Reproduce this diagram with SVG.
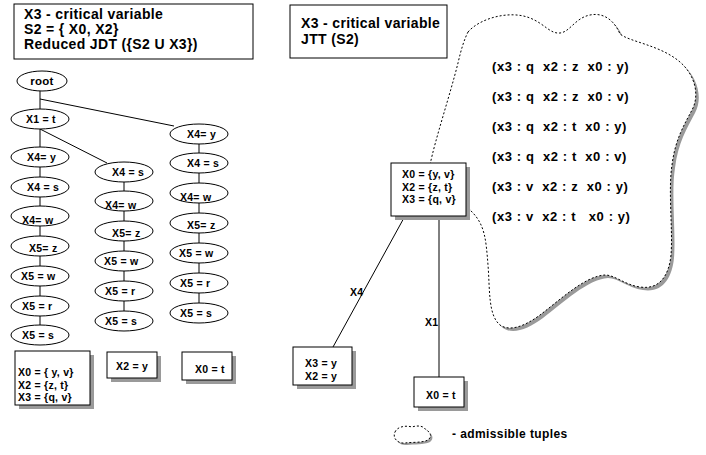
<svg xmlns="http://www.w3.org/2000/svg" width="706" height="455" viewBox="0 0 706 455">
<style>
text { font-family: "Liberation Sans", Arial, sans-serif; font-weight: bold; fill: #000; }
.h { font-size: 14px; letter-spacing: 0.35px; }
.s { font-size: 10.5px; letter-spacing: 0.25px; }
.tu { font-size: 13px; letter-spacing: 0.6px; }
.lg { font-size: 12px; letter-spacing: 0.4px; }
ellipse { fill: #fff; stroke: #000; stroke-width: 1; }
.box { fill: #fff; stroke: #000; stroke-width: 1; }
.sh { fill: #9a9a9a; stroke: none; }
.con line { stroke: #000; stroke-width: 1; }
.cloud { fill: #fff; stroke: #000; stroke-width: 1; stroke-dasharray: 2 2; }
</style>

<!-- cloud of admissible tuples -->
<g id="cloud">
<path class="sh" transform="translate(3,3)" d="M 468,32 C 480,18 510,10 530,18 C 545,24 550,34 560,33 C 570,32 575,18 590,15 C 605,12 615,22 620,34 C 630,42 660,45 680,62 C 695,75 700,95 692,110 C 684,125 675,140 672,165 C 668,190 673,230 671,255 C 669,275 660,290 640,287 C 625,285 615,275 605,275 C 585,276 560,300 540,315 C 525,326 510,332 500,325 C 488,315 490,290 488,265 C 486,240 485,225 472,212 L 430,165 C 435,140 450,95 458,63 C 461,50 464,40 468,32 Z"/>
<path class="cloud" d="M 468,32 C 480,18 510,10 530,18 C 545,24 550,34 560,33 C 570,32 575,18 590,15 C 605,12 615,22 620,34 C 630,42 660,45 680,62 C 695,75 700,95 692,110 C 684,125 675,140 672,165 C 668,190 673,230 671,255 C 669,275 660,290 640,287 C 625,285 615,275 605,275 C 585,276 560,300 540,315 C 525,326 510,332 500,325 C 488,315 490,290 488,265 C 486,240 485,225 472,212 L 430,165 C 435,140 450,95 458,63 C 461,50 464,40 468,32 Z"/>
<text class="tu" x="492" y="71" xml:space="preserve">(x3 : q  x2 : z  x0 : y)</text>
<text class="tu" x="492" y="101" xml:space="preserve">(x3 : q  x2 : z  x0 : v)</text>
<text class="tu" x="492" y="131" xml:space="preserve">(x3 : q  x2 : t  x0 : y)</text>
<text class="tu" x="492" y="161" xml:space="preserve">(x3 : q  x2 : t  x0 : v)</text>
<text class="tu" x="492" y="191" xml:space="preserve">(x3 : v  x2 : z  x0 : y)</text>
<text class="tu" x="492" y="221" xml:space="preserve">(x3 : v  x2 : t   x0 : y)</text>
</g>

<!-- headers -->
<g id="header-left">
<rect class="box" x="14" y="4" width="239" height="55"/>
<text class="h" x="24" y="19">X3 - critical variable</text>
<text class="h" x="24" y="34">S2 = { X0, X2}</text>
<text class="h" x="24" y="49">Reduced JDT ({S2 U X3})</text>
</g>
<g id="header-right">
<rect class="box" x="290" y="5" width="157" height="53"/>
<text class="h" x="301" y="28">X3 - critical variable</text>
<text class="h" x="301" y="44">JTT (S2)</text>
</g>

<!-- connectors -->
<g id="connectors" class="con">
<line x1="40" y1="90" x2="40" y2="109"/>
<line x1="40" y1="99" x2="174" y2="126"/>
<line x1="40" y1="129" x2="107" y2="163"/>
<line x1="40" y1="129" x2="40" y2="147"/>
<line x1="40" y1="167" x2="40" y2="177"/>
<line x1="40" y1="197" x2="40" y2="206"/>
<line x1="40" y1="226" x2="40" y2="236"/>
<line x1="40" y1="256" x2="40" y2="266"/>
<line x1="40" y1="286" x2="40" y2="296"/>
<line x1="40" y1="316" x2="40" y2="325"/>
<line x1="124" y1="182" x2="124" y2="191"/>
<line x1="124" y1="211" x2="124" y2="221"/>
<line x1="124" y1="241" x2="124" y2="251"/>
<line x1="124" y1="271" x2="124" y2="281"/>
<line x1="124" y1="301" x2="124" y2="311"/>
<line x1="199" y1="144" x2="199" y2="153"/>
<line x1="199" y1="173" x2="199" y2="183"/>
<line x1="199" y1="203" x2="199" y2="213"/>
<line x1="199" y1="233" x2="199" y2="243"/>
<line x1="199" y1="263" x2="199" y2="273"/>
<line x1="199" y1="293" x2="199" y2="303"/>
<line x1="405" y1="216" x2="333" y2="347"/>
<line x1="439" y1="216" x2="439" y2="377"/>
<text class="s" x="350" y="296">X4</text>
<text class="s" x="425" y="326">X1</text>
</g>

<!-- left tree nodes -->
<g id="n-root"><ellipse cx="42" cy="81" rx="25" ry="10"/><text class="s" x="42" y="85" text-anchor="middle" style="font-size:11.5px">root</text></g>
<g id="n-x1t"><ellipse cx="40" cy="119" rx="29" ry="10"/><text class="s" x="26" y="123">X1 = t</text></g>
<g id="n-l1"><ellipse cx="40" cy="157" rx="29" ry="10"/><text class="s" x="27" y="161">X4= y</text></g>
<g id="n-l2"><ellipse cx="40" cy="187" rx="29" ry="10"/><text class="s" x="27" y="191">X4 = s</text></g>
<g id="n-l3"><ellipse cx="40" cy="216" rx="29" ry="10"/><text class="s" x="22" y="224">X4= w</text></g>
<g id="n-l4"><ellipse cx="40" cy="246" rx="29" ry="10"/><text class="s" x="29" y="252">X5= z</text></g>
<g id="n-l5"><ellipse cx="40" cy="276" rx="29" ry="10"/><text class="s" x="21" y="280">X5 = w</text></g>
<g id="n-l6"><ellipse cx="40" cy="306" rx="29" ry="10"/><text class="s" x="22" y="310">X5 = r</text></g>
<g id="n-l7"><ellipse cx="40" cy="335" rx="29" ry="10"/><text class="s" x="22" y="339">X5 = s</text></g>

<g id="n-m1"><ellipse cx="124" cy="172" rx="29" ry="10"/><text class="s" x="112" y="176">X4 = s</text></g>
<g id="n-m2"><ellipse cx="124" cy="201" rx="29" ry="10"/><text class="s" x="105" y="209">X4= w</text></g>
<g id="n-m3"><ellipse cx="124" cy="231" rx="29" ry="10"/><text class="s" x="112" y="237">X5= z</text></g>
<g id="n-m4"><ellipse cx="124" cy="261" rx="29" ry="10"/><text class="s" x="104" y="265">X5 = w</text></g>
<g id="n-m5"><ellipse cx="124" cy="291" rx="29" ry="10"/><text class="s" x="105" y="295">X5 = r</text></g>
<g id="n-m6"><ellipse cx="124" cy="321" rx="29" ry="10"/><text class="s" x="105" y="325">X5 = s</text></g>

<g id="n-r1"><ellipse cx="199" cy="134" rx="29" ry="10"/><text class="s" x="187" y="138">X4= y</text></g>
<g id="n-r2"><ellipse cx="199" cy="163" rx="29" ry="10"/><text class="s" x="187" y="167">X4 = s</text></g>
<g id="n-r3"><ellipse cx="199" cy="193" rx="29" ry="10"/><text class="s" x="180" y="201">X4= w</text></g>
<g id="n-r4"><ellipse cx="199" cy="223" rx="29" ry="10"/><text class="s" x="187" y="229">X5= z</text></g>
<g id="n-r5"><ellipse cx="199" cy="253" rx="29" ry="10"/><text class="s" x="179" y="257">X5 = w</text></g>
<g id="n-r6"><ellipse cx="199" cy="283" rx="29" ry="10"/><text class="s" x="180" y="287">X5 = r</text></g>
<g id="n-r7"><ellipse cx="199" cy="313" rx="29" ry="10"/><text class="s" x="180" y="317">X5 = s</text></g>

<!-- left leaf boxes -->
<g id="b-left1">
<rect class="sh" x="19" y="355" width="75" height="54"/>
<rect class="box" x="15" y="351" width="75" height="54"/>
<text class="s" x="18" y="376">X0 = { y, v}</text>
<text class="s" x="18" y="389">X2 = {z, t}</text>
<text class="s" x="18" y="401">X3 = {q, v}</text>
</g>
<g id="b-left2">
<rect class="sh" x="111" y="356" width="50" height="26"/>
<rect class="box" x="107" y="352" width="50" height="26"/>
<text class="s" x="116" y="370">X2 = y</text>
</g>
<g id="b-left3">
<rect class="sh" x="186" y="356" width="50" height="28"/>
<rect class="box" x="182" y="352" width="50" height="28"/>
<text class="s" x="195" y="373">X0 = t</text>
</g>

<!-- right JTT nodes -->
<g id="b-jtt">
<rect class="sh" x="395" y="167" width="75" height="53"/>
<rect class="box" x="391" y="163" width="75" height="53"/>
<text class="s" x="402" y="178">X0 = {y, v}</text>
<text class="s" x="402" y="190.5">X2 = {z, t}</text>
<text class="s" x="402" y="203">X3 = {q, v}</text>
</g>
<g id="b-x3y">
<rect class="sh" x="297" y="351" width="59" height="38"/>
<rect class="box" x="293" y="347" width="59" height="38"/>
<text class="s" x="305" y="367">X3 = y</text>
<text class="s" x="305" y="380">X2 = y</text>
</g>
<g id="b-x0t">
<rect class="sh" x="418" y="381" width="50" height="30"/>
<rect class="box" x="414" y="377" width="50" height="30"/>
<text class="s" x="426" y="399">X0 = t</text>
</g>

<!-- legend -->
<g id="legend">
<path class="sh" transform="translate(2,2)" d="M 395,432 C 397,427 405,425 412,427 C 418,425 424,426 426,430 C 431,432 432,437 428,440 C 422,443 412,442 405,443 C 398,444 392,438 395,432 Z"/>
<path class="cloud" d="M 395,432 C 397,427 405,425 412,427 C 418,425 424,426 426,430 C 431,432 432,437 428,440 C 422,443 412,442 405,443 C 398,444 392,438 395,432 Z"/>
<text class="lg" x="452" y="438">- admissible tuples</text>
</g>
</svg>
